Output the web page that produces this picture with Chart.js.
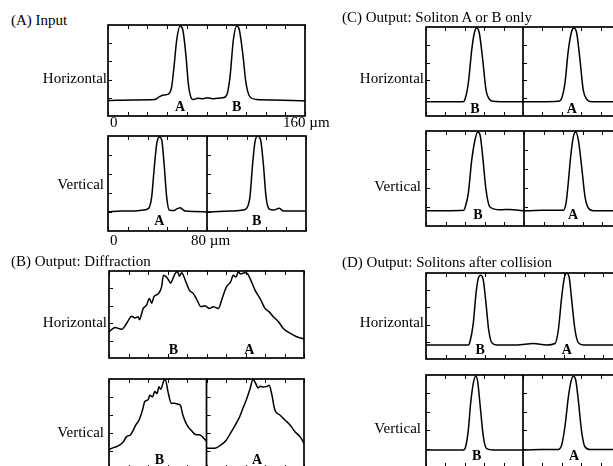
<!DOCTYPE html>
<html>
<head>
<meta charset="utf-8">
<script src="https://cdn.jsdelivr.net/npm/chart.js@4.4.0/dist/chart.umd.min.js"></script>
<style>
    html, body { margin: 0; padding: 0; background: #fff; }
    #fig { position: relative; width: 613px; height: 466px; overflow: hidden; font-family: "Liberation Serif", "Times New Roman", serif; color: #000; }
    .t { position: absolute; font-size: 15px; line-height: 16px; white-space: nowrap; }
    canvas { position: absolute; }
</style>
</head>
<body>
<div id="fig"></div>
<script>
// Beam profiles, x in µm, y = normalised intensity
// (A) Input
const inHx = [0, 20, 38, 41, 45, 49, 51.7, 53.6, 55.8, 58.5, 60.7, 63.4, 65.2, 67.2, 69.3, 73, 77, 81, 85, 89, 93, 96.4, 99.1, 101.8, 104.5, 106.6, 109.4, 112.1, 115.3, 120.8, 135, 150, 160];
const inHy = [0.17, 0.176, 0.18, 0.205, 0.23, 0.24, 0.32, 0.54, 0.835, 0.99, 0.95, 0.65, 0.36, 0.21, 0.18, 0.195, 0.19, 0.2, 0.19, 0.195, 0.2, 0.23, 0.43, 0.835, 0.99, 0.95, 0.69, 0.36, 0.21, 0.18, 0.175, 0.17, 0.165];
const inV1x = [0, 10, 20, 28.5, 32.6, 35.3, 37.2, 39.4, 41.5, 43.4, 45.3, 47.4, 49.5, 52.8, 56, 58.2, 60.5, 62.2, 70, 80];
const inV1y = [0.2, 0.21, 0.21, 0.22, 0.235, 0.36, 0.64, 0.92, 0.99, 0.96, 0.71, 0.36, 0.22, 0.215, 0.235, 0.245, 0.225, 0.21, 0.205, 0.2];
const inV2x = [0, 10, 20, 29.3, 32.1, 34.7, 36.9, 38.8, 40.9, 43.3, 45.5, 47.7, 50.4, 54, 58.4, 61.7, 70, 80];
const inV2y = [0.2, 0.205, 0.21, 0.22, 0.24, 0.36, 0.71, 0.94, 1.0, 0.96, 0.71, 0.36, 0.23, 0.22, 0.24, 0.21, 0.21, 0.21];

// (B) Output: diffraction
const difHx = [0, 1.6, 4.9, 10.4, 14.5, 18.6, 21.3, 24, 24.9, 28.1, 30.9, 33.1, 35, 36.9, 40.5, 43.2, 44.6, 46.8, 48.7, 50.6, 52.2, 54.2, 56.3, 57.7, 59.6, 62.4, 65.9, 69.2, 71.9, 75.5, 78.8, 82.3, 85.6, 89.7, 93.3, 96.5, 99.8, 102, 104.2, 106.1, 108, 110.8, 113.5, 115.7, 119.8, 123.9, 128, 131.5, 134.8, 138.9, 143, 148.5, 154, 160];
const difHy = [0.3, 0.32, 0.35, 0.33, 0.4, 0.48, 0.46, 0.475, 0.44, 0.57, 0.61, 0.685, 0.63, 0.705, 0.74, 0.82, 0.95, 0.935, 0.9, 0.86, 0.905, 0.97, 0.99, 0.94, 0.98, 0.9, 0.78, 0.74, 0.675, 0.59, 0.6, 0.57, 0.59, 0.57, 0.705, 0.82, 0.875, 0.95, 0.93, 0.99, 0.965, 0.98, 0.97, 0.915, 0.78, 0.685, 0.57, 0.53, 0.475, 0.42, 0.34, 0.285, 0.245, 0.22];
const difV1x = [0, 0.8, 6.3, 11.7, 14.4, 17.7, 19.8, 22, 24.7, 27.5, 29.4, 32.1, 33.5, 35.6, 37.6, 39.4, 41, 42.4, 44.9, 46.2, 48.4, 51.1, 53.8, 56.5, 58.5, 60.6, 63.9, 67.4, 71.5, 74.1, 79.2, 80];
const difV1y = [0.21, 0.22, 0.25, 0.3, 0.36, 0.38, 0.43, 0.49, 0.545, 0.655, 0.75, 0.77, 0.82, 0.8, 0.86, 0.84, 0.915, 0.885, 0.98, 0.995, 0.86, 0.73, 0.73, 0.72, 0.71, 0.6, 0.49, 0.43, 0.38, 0.38, 0.32, 0.31];
const difV2x = [0, 1.1, 6.6, 12.1, 16.2, 20.4, 24.5, 27.2, 29.9, 32.7, 35.5, 38.2, 40.4, 42.3, 44.3, 46.4, 49.2, 51.4, 53.4, 56.1, 60.2, 64.3, 68.5, 72.6, 76.7, 79.4, 80];
const difV2y = [0.23, 0.23, 0.23, 0.27, 0.32, 0.415, 0.51, 0.58, 0.675, 0.77, 0.88, 0.995, 0.95, 0.9, 0.92, 0.91, 0.915, 0.93, 0.84, 0.655, 0.6, 0.545, 0.49, 0.415, 0.36, 0.3, 0.28];

// (C) Output: soliton A or B only
const oneH1x = [0, 15, 30.8, 32.2, 34.9, 37.7, 39.8, 41.8, 44, 46.8, 49.5, 52.2, 55.5, 65, 80];
const oneH1y = [0.16, 0.16, 0.16, 0.19, 0.37, 0.74, 0.93, 0.99, 0.93, 0.63, 0.29, 0.19, 0.165, 0.16, 0.16];
const oneH2x = [0, 1.6, 15, 29.1, 31.9, 34.6, 37.4, 40.1, 42.1, 44.3, 47, 49.7, 52.5, 56.7, 70, 80];
const oneH2y = [0.16, 0.16, 0.16, 0.165, 0.2, 0.37, 0.74, 0.95, 0.99, 0.93, 0.63, 0.29, 0.19, 0.16, 0.16, 0.16];
const oneV1x = [0, 15, 30.8, 31.8, 34.5, 37.3, 40, 42.2, 44.1, 46.3, 49, 52.2, 60.4, 68.6, 79.2, 80];
const oneV1y = [0.16, 0.16, 0.165, 0.19, 0.34, 0.69, 0.905, 0.99, 0.96, 0.73, 0.38, 0.2, 0.17, 0.175, 0.16, 0.16];
const oneV2x = [0, 2.2, 15, 32, 34.3, 36.1, 38.1, 40.3, 42.2, 44.4, 47.1, 49.8, 52.5, 56.6, 70, 80];
const oneV2y = [0.16, 0.16, 0.165, 0.165, 0.24, 0.45, 0.73, 0.94, 0.99, 0.905, 0.62, 0.31, 0.19, 0.16, 0.16, 0.16];

// (D) Output: solitons after collision
const colHx = [0, 15, 34.4, 35.7, 38.4, 40.6, 42.5, 44.4, 46.5, 48.7, 50.9, 53.4, 57.4, 73.7, 87.2, 98, 104.8, 107.5, 110.2, 112.3, 114.3, 116.4, 118.3, 121, 123.7, 127.8, 145, 160];
const colHy = [0.163, 0.163, 0.163, 0.2, 0.415, 0.76, 0.94, 0.975, 0.92, 0.65, 0.34, 0.19, 0.163, 0.163, 0.18, 0.163, 0.18, 0.34, 0.72, 0.94, 1.0, 0.94, 0.69, 0.34, 0.19, 0.163, 0.163, 0.163];
const colV1x = [0, 15, 30.8, 32.7, 34.9, 36.8, 39, 41, 42.6, 44.5, 47.3, 50, 55.5, 79, 80];
const colV1y = [0.185, 0.185, 0.185, 0.22, 0.4, 0.69, 0.91, 0.99, 0.93, 0.69, 0.33, 0.2, 0.185, 0.185, 0.185];
const colV2x = [0, 0.3, 15, 28.9, 31.9, 34.6, 37.4, 39.6, 41.5, 43.5, 45.6, 48.4, 51.1, 55.3, 70, 80];
const colV2y = [0.185, 0.185, 0.19, 0.19, 0.24, 0.44, 0.76, 0.93, 0.99, 0.945, 0.73, 0.38, 0.22, 0.19, 0.19, 0.19];

// axis ticks (µm and intensity), drawn inward like the original
const xTicks = [0, 16, 32, 48, 64, 80, 96, 112, 128, 144, 160];
const yTicks = [0.2, 0.4, 0.6, 0.8];

// panel letters under each peak: [x in µm on the 0-160 row axis, text]
const inHMarks = [[58.5, 'A'], [104.5, 'B']];
const inVMarks = [[41.5, 'A'], [120.1, 'B']];
const difHMarks = [[52.8, 'B'], [115.1, 'A']];
const difVMarks = [[41.4, 'B'], [121.5, 'A']];
const oneHMarks = [[40.4, 'B'], [120.2, 'A']];
const oneVMarks = [[42.4, 'B'], [120.0, 'A']];
const colHMarks = [[43.9, 'B'], [114.3, 'A']];
const colVMarks = [[41.8, 'B'], [122.1, 'A']];

const fig = document.getElementById('fig');
const PAD = 3;

function pts(xs, ys, shift) {
    return xs.map((x, i) => ({ x: x + shift, y: ys[i] }));
}

const framePlugin = {
    id: 'frame',
    afterDatasetsDraw(chart, args, opts) {
        const ctx = chart.ctx;
        const a = chart.chartArea;
        const x = chart.scales.x, y = chart.scales.y;
        ctx.save();
        ctx.strokeStyle = '#000';
        ctx.lineWidth = 1;
        ctx.beginPath();
        xTicks.forEach(v => {
            const px = Math.round(x.getPixelForValue(v)) + 0.5;
            ctx.moveTo(px, a.top); ctx.lineTo(px, a.top + 4);
            ctx.moveTo(px, a.bottom); ctx.lineTo(px, a.bottom - 4);
        });
        opts.edges.forEach(e => {
            const ex = x.getPixelForValue(e);
            yTicks.forEach(v => {
                const py = Math.round(y.getPixelForValue(v)) + 0.5;
                ctx.moveTo(ex, py); ctx.lineTo(ex + 4, py);
            });
        });
        ctx.stroke();
        ctx.lineWidth = 1.7;
        ctx.strokeRect(a.left, a.top, a.width, a.height);
        if (opts.edges.length > 1) {
            const dx = x.getPixelForValue(opts.edges[1]);
            ctx.beginPath(); ctx.moveTo(dx, a.top); ctx.lineTo(dx, a.bottom); ctx.stroke();
        }
        // peak letters
        ctx.fillStyle = '#000';
        ctx.font = 'bold 14px "Liberation Serif", serif';
        ctx.textAlign = 'center';
        ctx.textBaseline = 'middle';
        opts.marks.forEach(m => {
            ctx.fillText(m[1], x.getPixelForValue(m[0]), y.getPixelForValue(opts.markY));
        });
        ctx.restore();
    }
};

function panel(box, series, marks, markY, split) {
    const [l, t, r, b] = box;
    const cv = document.createElement('canvas');
    cv.width = r - l + PAD * 2;
    cv.height = b - t + PAD * 2;
    cv.style.left = (l - PAD) + 'px';
    cv.style.top = (t - PAD) + 'px';
    fig.appendChild(cv);
    new Chart(cv, {
        type: 'line',
        data: {
            datasets: series.map((s, i) => ({
                data: pts(s[0], s[1], i * 80),
                borderColor: '#000',
                borderWidth: 1.5,
                pointRadius: 0,
                cubicInterpolationMode: 'monotone',
                fill: false
            }))
        },
        options: {
            responsive: false,
            animation: false,
            devicePixelRatio: 1,
            layout: { padding: PAD },
            plugins: {
                legend: { display: false },
                tooltip: { enabled: false },
                frame: { edges: split ? [0, 80] : [0], marks: marks, markY: markY }
            },
            scales: {
                x: { type: 'linear', min: 0, max: 160, display: false },
                y: { min: 0, max: 1, display: false }
            }
        },
        plugins: [framePlugin]
    });
}

function text(str, x, y, right) {
    const d = document.createElement('div');
    d.className = 't';
    d.textContent = str;
    d.style.top = (y - 8) + 'px';
    if (right) d.style.right = (613 - x) + 'px';
    else d.style.left = x + 'px';
    fig.appendChild(d);
}

// (A)
panel([108, 25, 305, 116], [[inHx, inHy]], inHMarks, 0.09, false);
panel([108, 136, 306, 231], [[inV1x, inV1y], [inV2x, inV2y]], inVMarks, 0.1, true);
// (B)
panel([109, 271, 304, 358], [[difHx, difHy]], difHMarks, 0.09, false);
panel([109, 379, 304, 469], [[difV1x, difV1y], [difV2x, difV2y]], difVMarks, 0.1, true);
// (C)
panel([426, 27, 620, 116], [[oneH1x, oneH1y], [oneH2x, oneH2y]], oneHMarks, 0.07, true);
panel([426, 131, 622, 226], [[oneV1x, oneV1y], [oneV2x, oneV2y]], oneVMarks, 0.115, true);
// (D)
panel([426, 273, 623, 359], [[colHx, colHy]], colHMarks, 0.105, false);
panel([426, 375, 620, 467], [[colV1x, colV1y], [colV2x, colV2y]], colVMarks, 0.11, true);

text('(A) Input', 11, 20);
text('Horizontal', 107, 78, true);
text('0', 110, 122);
text('160 \u00b5m', 283, 122);
text('Vertical', 104, 184, true);
text('0', 110, 240);
text('80 \u00b5m', 191, 240);
text('(B) Output: Diffraction', 11, 261);
text('Horizontal', 107, 322, true);
text('Vertical', 104, 432, true);
text('(C) Output: Soliton A or B only', 342, 17);
text('Horizontal', 424, 78, true);
text('Vertical', 421, 186, true);
text('(D) Output: Solitons after collision', 342, 262);
text('Horizontal', 424, 322, true);
text('Vertical', 421, 428, true);
</script>
</body>
</html>
